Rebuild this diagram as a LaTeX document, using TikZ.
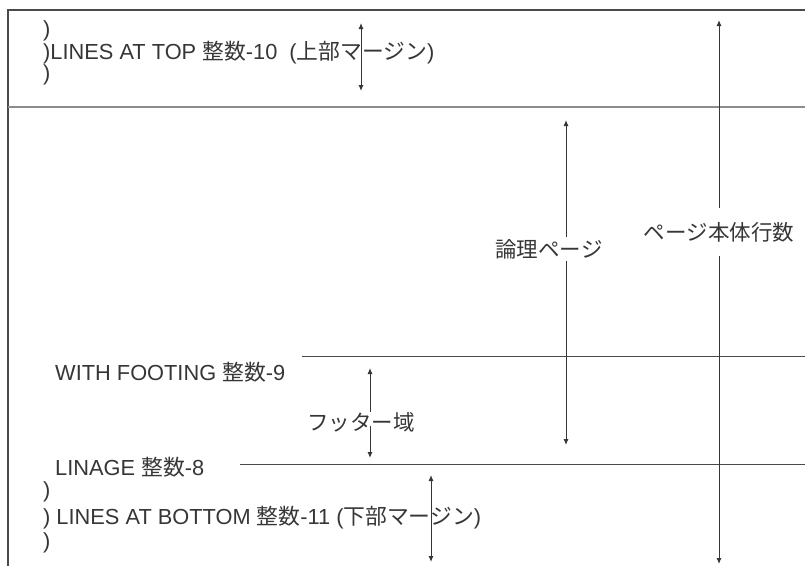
\documentclass[tikz,border=0pt]{standalone}
\usepackage{fontspec}
\setmainfont{Liberation Sans}
\newfontfamily\cjk{Noto Sans CJK JP}
\usetikzlibrary{arrows.meta,positioning}
\definecolor{inkgray}{HTML}{363636}
\definecolor{rulegray}{HTML}{4A4A4A}
\definecolor{splitgray}{HTML}{8C8C8C}
\newcommand{\jp}[1]{{\cjk #1}}
\tikzset{
  >={Latex[length=6pt,width=5pt]},
  % rahmen und linien
  rim/.style={draw=rulegray,line width=1.3pt},
  split/.style={draw=splitgray,line width=2.2pt},
  lvl/.style={draw=rulegray,line width=1pt},
  dim/.style={draw=inkgray,line width=1pt},
  % texte
  txt/.style={anchor=west,inner sep=0pt,text=inkgray,
              font=\fontsize{21.8}{24}\selectfont},
  dimlbl/.style={inner xsep=0pt,text=inkgray,
                 font=\fontsize{21.5}{24}\selectfont\cjk},
}
\begin{document}
\begin{tikzpicture}[x=1pt,y=-1pt]
  \useasboundingbox (0,0) rectangle (805,566);
  \coordinate (tl) at (8,10);
  \coordinate (tr) at (805,10);
  \coordinate (bl) at (8,566);
  \coordinate (sl) at (8,107);
  \coordinate (sr) at (805,107);
  \coordinate (fl) at (302,356);
  \coordinate (fr) at (805,356);
  \coordinate (ll) at (240,464);
  \coordinate (lr) at (805,464);
  \draw[rim] (tr) -- (tl) -- (bl);
  \draw[split] (sl) -- (sr);
  \draw[lvl] (fl) -- (fr);
  \draw[lvl] (ll) -- (lr);

  \node[txt] (p1) at (43,31) {)};
  \node[txt] (topm) at (43,53) {)LINES AT TOP \jp{整数}-10\ \ (\jp{上部マージン})};
  \node[txt] (p2) at (43,75) {)};
  \node[txt] (foot) at (55,372) {WITH FOOTING \jp{整数}-9};
  \node[txt] (linage) at (55,467) {LINAGE \jp{整数}-8};
  \node[txt] (p3) at (43,492) {)};
  \node[txt] (botm) at (43,518) {) LINES AT BOTTOM \jp{整数}-11 (\jp{下部マージン})};
  \node[txt] (p4) at (43,543) {)};

  \node[dimlbl,inner ysep=14pt] (body) at (719,232) {ページ本体行数};
  \node[dimlbl,inner ysep=1.5pt] (logic) at (549,249) {論理ページ};
  \node[dimlbl,inner ysep=0pt] (footarea) at (361,422) {フッター域};

  \coordinate (ta) at (361,23);
  \coordinate (tb) at (361,91);
  \draw[dim,<->] (ta) -- (tb);

  \coordinate (ba) at (719,20);
  \coordinate (bb) at (719,564);
  \draw[dim,->] (body.north) -- (ba);
  \draw[dim,->] (body.south) -- (bb);

  \coordinate (la) at (566,120);
  \coordinate (lb) at (566,445);
  \draw[dim,->] (la |- logic.north) -- (la);
  \draw[dim,->] (lb |- logic.south) -- (lb);

  \coordinate (fa) at (370,368);
  \coordinate (fm) at (370,426);
  \coordinate (fb) at (370,458);
  \draw[dim,->] (fa |- footarea.north) -- (fa);
  \draw[dim,->] (fm) -- (fb);

  \coordinate (ma) at (431,475);
  \coordinate (mb) at (431,562);
  \draw[dim,<->] (ma) -- (mb);
\end{tikzpicture}
\end{document}
